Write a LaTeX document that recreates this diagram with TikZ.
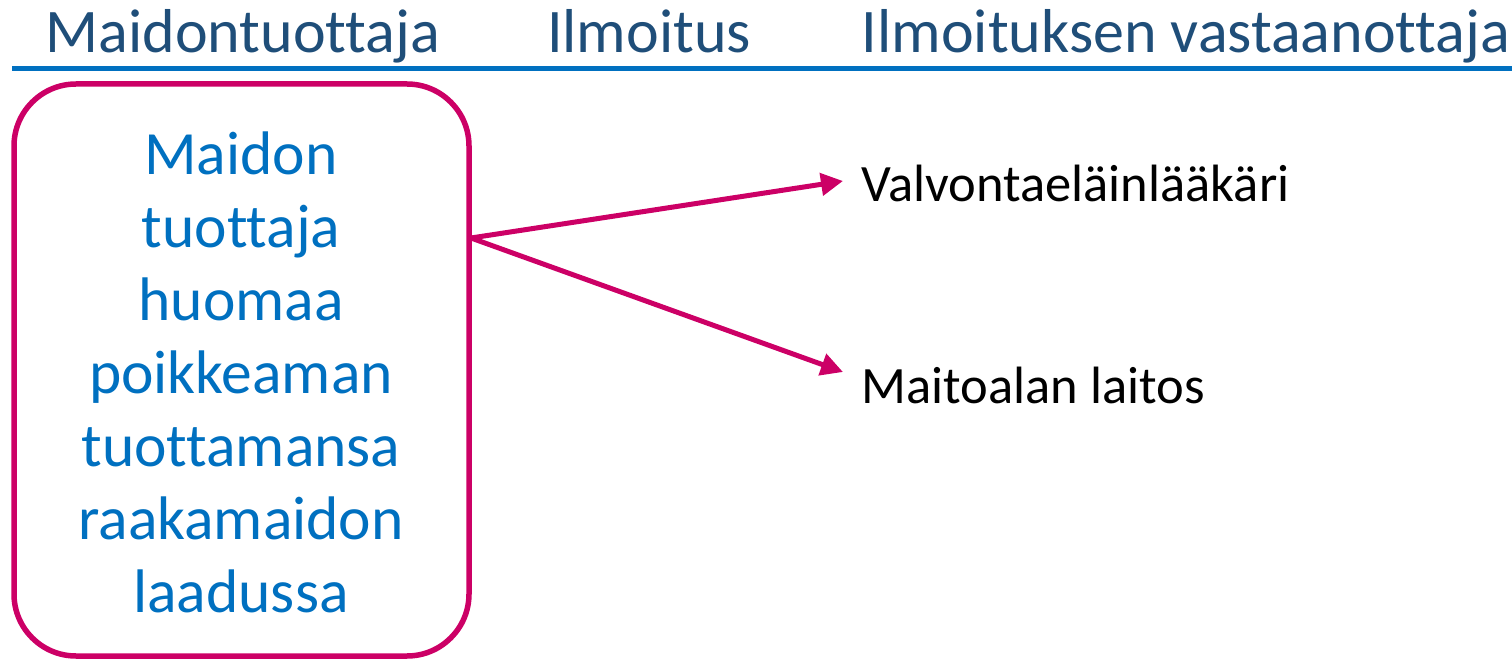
\documentclass[tikz,border=0pt]{standalone}
\usepackage{fontspec}
\setmainfont{Carlito}[RawFeature=-liga]
\usetikzlibrary{arrows.meta}
\definecolor{headc}{HTML}{1F4E79}
\definecolor{linec}{HTML}{0070C0}
\definecolor{magc}{HTML}{CC0066}
\tikzset{
  head/.style={text=headc, font=\fontsize{62}{64}\selectfont, anchor=base},
  boxtext/.style={text=linec, font=\fontsize{61.5}{73}\selectfont, align=center},
  lbl/.style={text=black, font=\fontsize{52.5}{56}\selectfont, anchor=west},
  conn/.style={draw=magc, line width=5pt, -{Triangle[length=22pt,width=22pt]}},
}
\begin{document}
\begin{tikzpicture}[x=1pt,y=-1pt]
\useasboundingbox (0,0) rectangle (1512,660);
\node[head] (h1) at (243,53) {Maidontuottaja};
\node[head] (h2) at (649,53) {Ilmoitus};
\node[head] (h3) at (1186,53) {Ilmoituksen vastaanottaja};
\coordinate (ls) at (12,69);
\coordinate (le) at (1512,69);
\draw[linec, line width=5pt] (ls) -- (le);
\draw[magc, line width=5.5pt, rounded corners=62pt] (14,84) rectangle (469,656);
\node[boxtext] (src) at (241,372) {Maidon\\tuottaja\\huomaa\\poikkeaman\\tuottamansa\\raakamaidon\\laadussa};
\coordinate (start) at (471,238);
\node[lbl] (v) at (858,183) {Valvontaeläinlääkäri};
\node[lbl] (m) at (858,385) {Maitoalan laitos};
\draw[conn] (start) -- (843,181);
\draw[conn] (start) -- (843,372);
\end{tikzpicture}
\end{document}
